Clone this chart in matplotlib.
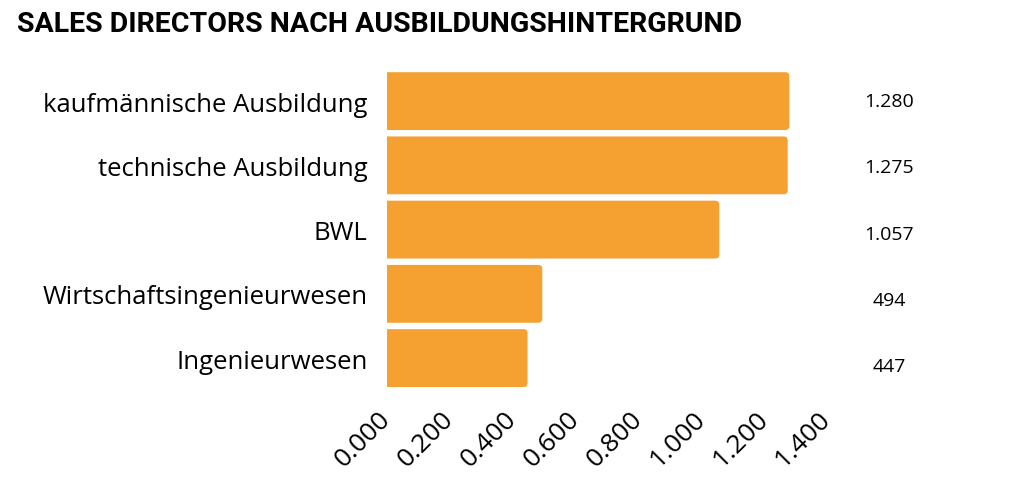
import numpy as np
import matplotlib.pyplot as plt
import matplotlib.transforms as mtransforms
from matplotlib.patches import PathPatch
from matplotlib.path import Path

categories = ["kaufmännische Ausbildung", "technische Ausbildung", "BWL",
              "Wirtschaftsingenieurwesen", "Ingenieurwesen"]
values = [1280, 1275, 1057, 494, 447]
value_labels = ["1.280", "1.275", "1.057", "494", "447"]
ticks = [0, 200, 400, 600, 800, 1000, 1200, 1400]
tick_labels = ["0.000", "0.200", "0.400", "0.600", "0.800", "1.000", "1.200", "1.400"]

bar_color = "#F4A132"

plt.rcParams["font.family"] = ["Open Sans", "DejaVu Sans"]

fig = plt.figure(figsize=(10.14, 4.89), dpi=100)
ax = fig.add_axes([0.3817, 0.2000, 0.4339, 0.6569])

y = np.arange(len(categories))
bars = ax.barh(y, values, height=0.9, color=bar_color)
ax.set_xlim(0, 1400)
ax.set_ylim(len(categories) - 0.5, -0.5)

# rounded right corners: replace each bar by a path with the same geometry
px_x = 1400 / (0.4339 * 1014)
px_y = 5 / (0.6569 * 489)
rx, ry = 4 * px_x, 4 * px_y
for b in bars:
    b.set_visible(False)
    x0, y0 = b.get_x(), b.get_y()
    x1, y1 = x0 + b.get_width(), y0 + b.get_height()
    verts = [(x0, y0), (x1 - rx, y0), (x1, y0), (x1, y0 + ry),
             (x1, y1 - ry), (x1, y1), (x1 - rx, y1), (x0, y1), (x0, y0)]
    codes = [Path.MOVETO, Path.LINETO, Path.CURVE3, Path.CURVE3,
             Path.LINETO, Path.CURVE3, Path.CURVE3, Path.LINETO, Path.CLOSEPOLY]
    ax.add_patch(PathPatch(Path(verts, codes), facecolor=bar_color, edgecolor="none"))

ax.set_yticks(y)
ax.set_yticklabels(categories, fontsize=18.5)
ax.set_xticks(ticks)
ax.set_xticklabels(tick_labels, fontsize=19, rotation=45, ha="right", va="center",
                   rotation_mode="anchor")
ax.tick_params(axis="y", length=0, pad=14)
ax.tick_params(axis="x", length=0, pad=18)
for s in ax.spines.values():
    s.set_visible(False)

trans = mtransforms.blended_transform_factory(fig.transFigure, ax.transData)
for yi, lab in zip(y, value_labels):
    shift = mtransforms.ScaledTranslation(0, -2 * yi / 100, fig.dpi_scale_trans)
    ax.text(889 / 1014, yi, lab, transform=trans + shift, ha="center", va="center",
            fontsize=14, clip_on=False)

fig.text(17 / 1014, 1 - 25 / 489, "SALES DIRECTORS NACH AUSBILDUNGSHINTERGRUND",
         fontsize=20.5, fontweight="bold", va="center", ha="left", family="Roboto")

fig.savefig("out.png", dpi=100)
